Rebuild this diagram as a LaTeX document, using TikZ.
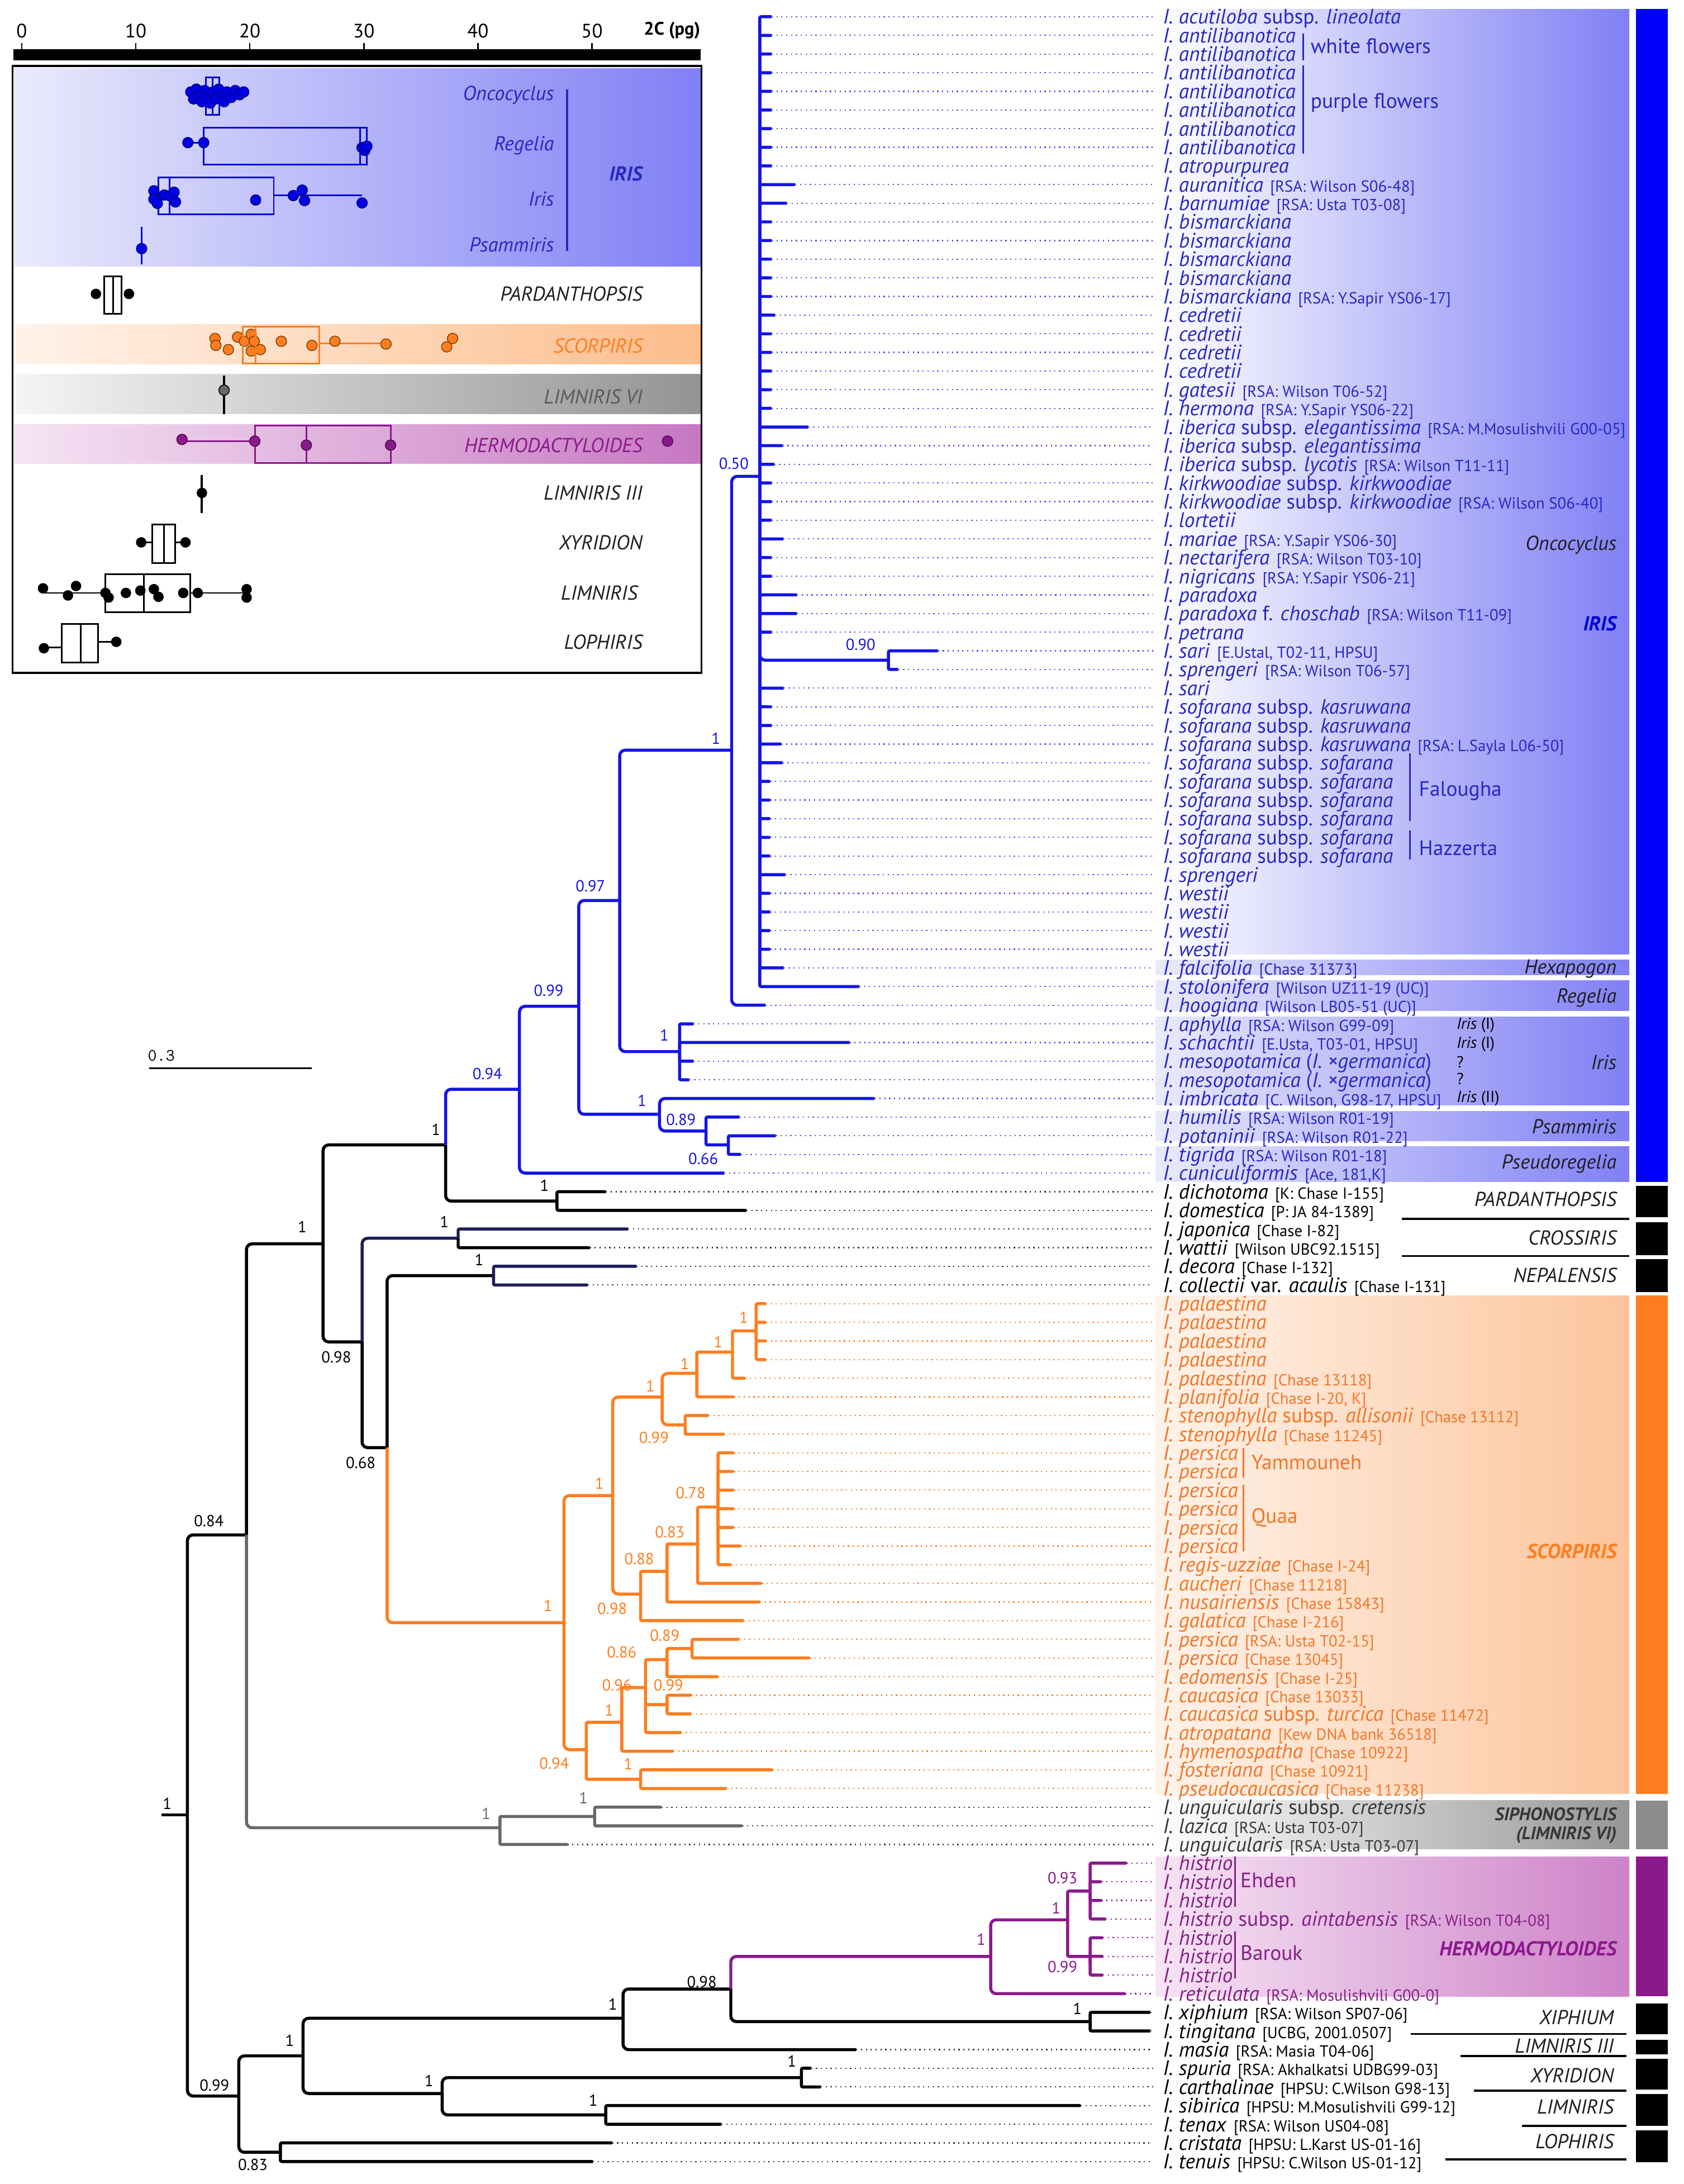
\documentclass[tikz,border=0pt]{standalone}
\usepackage{fontspec}
\setmainfont{PT Sans}

\definecolor{irisblue}{RGB}{20,20,230}
\definecolor{iristext}{RGB}{40,40,195}
\definecolor{irisband}{RGB}{128,128,245}
\definecolor{irisfaint}{RGB}{234,234,252}
\definecolor{scorp}{RGB}{255,125,30}
\definecolor{scorptext}{RGB}{242,118,40}
\definecolor{scorpband}{RGB}{252,196,155}
\definecolor{scorpfaint}{RGB}{255,243,234}
\definecolor{siph}{RGB}{105,105,105}
\definecolor{siphtext}{RGB}{55,55,55}
\definecolor{siphband}{RGB}{150,150,150}
\definecolor{hermo}{RGB}{140,25,140}
\definecolor{hermotext}{RGB}{135,30,135}
\definecolor{hermoband}{RGB}{205,130,200}
\definecolor{hermofaint}{RGB}{246,228,244}
\definecolor{navy}{RGB}{30,30,90}
\definecolor{cladeink}{RGB}{30,30,30}

\newcommand{\tx}[1]{\textit{#1}}
\newcommand{\vouch}[1]{\hspace{5pt}{\fontsize{11.5}{12}\selectfont[#1]}}

\tikzset{
  br/.style = {line width = 2.2pt, rounded corners = 4pt},
  stub/.style = {line width = 2.2pt, rounded corners = 1pt},
  lead/.style = {line width = 0.9pt, dash pattern = on 0.9pt off 2.6pt},
  leaf/.style = {anchor = base west, yshift = -5.2pt, font = \fontsize{15}{15}\selectfont},
  sup/.style = {font = \fontsize{11.5}{12}\selectfont},
  clade/.style = {anchor = east, font = \fontsize{14.5}{15}\selectfont\itshape},
  grp/.style = {anchor = west, font = \fontsize{15}{15}\selectfont},
  insetlab/.style = {anchor = east, font = \fontsize{14.5}{15}\selectfont\itshape},
  gsdot/.style = {circle, minimum size = 7.5pt, line width = 0.6pt},
  gsbox/.style = {line width = 1.2pt},
}

\begin{document}
\begin{tikzpicture}[%
    x = 1pt,
    y = -1pt,
    every node/.style = {inner sep = 0pt}
  ]
  \useasboundingbox (0,0) rectangle (1209,1568);

  % Shaded bands behind the clade labels.
  \shade[left color = white, right color = irisband] (830,6.5) rectangle (1170,684.9);
  \shade[left color = irisfaint, right color = irisband] (830,689.3) rectangle (1170,700);
  \shade[left color = irisfaint, right color = irisband] (830,704) rectangle (1170,725.8);
  \shade[left color = irisfaint, right color = irisband] (830,729.9) rectangle (1170,793.6);
  \shade[left color = irisfaint, right color = irisband] (830,797.7) rectangle (1170,818.9);
  \shade[left color = irisfaint, right color = irisband] (830,823.1) rectangle (1170,848.4);
  \shade[left color = scorpfaint, right color = scorpband] (830,930.2) rectangle (1170,1287.9);
  \shade[left color = white, right color = siphband] (830,1292.6) rectangle (1170,1327.5);
  \shade[left color = hermofaint, right color = hermoband] (830,1333) rectangle (1170,1433.3);

  % Coloured bars on the right.
  \fill[blue] (1174.6,6.5) rectangle (1197.5,848.4);
  \fill (1174.6,851.5) rectangle (1197.5,874);
  \fill (1174.6,877.3) rectangle (1197.5,901.3);
  \fill (1174.6,904) rectangle (1197.5,927.5);
  \fill[scorp] (1174.6,930.2) rectangle (1197.5,1287.9);
  \fill[black!45] (1174.6,1292.6) rectangle (1197.5,1327.5);
  \fill[hermo] (1174.6,1333) rectangle (1197.5,1433.3);
  \fill (1174.6,1438.5) rectangle (1197.5,1460.6);
  \fill (1174.6,1464.5) rectangle (1197.5,1475);
  \fill (1174.6,1478.2) rectangle (1197.5,1500.3);
  \fill (1174.6,1503.5) rectangle (1197.5,1526.3);
  \fill (1174.6,1529.5) rectangle (1197.5,1552.3);

  % Rules under the small black clades.
  \draw[line width = 1.5pt] (1006.8,875) -- (1169.8,875);
  \draw[line width = 1.5pt] (1006.8,901.7) -- (1169.8,901.7);
  \draw[line width = 1.5pt] (1013,1460.3) -- (1168,1460.3);
  \draw[line width = 1.5pt] (1048.6,1476) -- (1168,1476);
  \draw[line width = 1.5pt] (1058.6,1500.9) -- (1168,1500.9);
  \draw[line width = 1.5pt] (1092.8,1526.3) -- (1168,1526.3);
  \draw[line width = 1.5pt] (1038,1550.3) -- (1168,1550.3);

  % Leaves of the Iris clade: index / branch tip / label.
  \foreach \i/\tip/\lab in {%
      1/554/{\tx{I. acutiloba} subsp. \tx{lineolata}},
      2/554/{\tx{I. antilibanotica}}, 3/554/{\tx{I. antilibanotica}},
      4/554/{\tx{I. antilibanotica}}, 5/554/{\tx{I. antilibanotica}},
      6/554/{\tx{I. antilibanotica}}, 7/554/{\tx{I. antilibanotica}},
      8/554/{\tx{I. antilibanotica}},
      9/554/{\tx{I. atropurpurea}},
      10/571/{\tx{I. auranitica}\vouch{RSA: Wilson S06-48}},
      11/565/{\tx{I. barnumiae}\vouch{RSA: Usta T03-08}},
      12/554/{\tx{I. bismarckiana}}, 13/554/{\tx{I. bismarckiana}},
      14/554/{\tx{I. bismarckiana}}, 15/554/{\tx{I. bismarckiana}},
      16/554/{\tx{I. bismarckiana}\vouch{RSA: Y.Sapir YS06-17}},
      17/556.5/{\tx{I. cedretii}}, 18/554/{\tx{I. cedretii}},
      19/554/{\tx{I. cedretii}}, 20/554/{\tx{I. cedretii}},
      21/554/{\tx{I. gatesii}\vouch{RSA: Wilson T06-52}},
      22/554/{\tx{I. hermona}\vouch{RSA: Y.Sapir YS06-22}},
      23/580.4/{\tx{I. iberica} subsp. \tx{elegantissima}\vouch{RSA: M.Mosulishvili G00-05}},
      24/562/{\tx{I. iberica} subsp. \tx{elegantissima}},
      25/556/{\tx{I. iberica} subsp. \tx{lycotis}\vouch{RSA: Wilson T11-11}},
      26/554/{\tx{I. kirkwoodiae} subsp. \tx{kirkwoodiae}},
      27/554/{\tx{I. kirkwoodiae} subsp. \tx{kirkwoodiae}\vouch{RSA: Wilson S06-40}},
      28/554/{\tx{I. lortetii}},
      29/562.6/{\tx{I. mariae}\vouch{RSA: Y.Sapir YS06-30}},
      30/554/{\tx{I. nectarifera}\vouch{RSA: Wilson T03-10}},
      31/554/{\tx{I. nigricans}\vouch{RSA: Y.Sapir YS06-21}},
      32/572.2/{\tx{I. paradoxa}},
      33/572.2/{\tx{I. paradoxa} f. \tx{choschab}\vouch{RSA: Wilson T11-09}},
      34/554/{\tx{I. petrana}},
      35/673.5/{\tx{I. sari}\vouch{E.Ustal, T02-11, HPSU}},
      36/645/{\tx{I. sprengeri}\vouch{RSA: Wilson T06-57}},
      37/562.8/{\tx{I. sari}},
      38/554/{\tx{I. sofarana} subsp. \tx{kasruwana}},
      39/554/{\tx{I. sofarana} subsp. \tx{kasruwana}},
      40/561/{\tx{I. sofarana} subsp. \tx{kasruwana}\vouch{RSA: L.Sayla L06-50}},
      41/562/{\tx{I. sofarana} subsp. \tx{sofarana}},
      42/553/{\tx{I. sofarana} subsp. \tx{sofarana}},
      43/553/{\tx{I. sofarana} subsp. \tx{sofarana}},
      44/553/{\tx{I. sofarana} subsp. \tx{sofarana}},
      45/553/{\tx{I. sofarana} subsp. \tx{sofarana}},
      46/553/{\tx{I. sofarana} subsp. \tx{sofarana}},
      47/564/{\tx{I. sprengeri}},
      48/553/{\tx{I. westii}}, 49/553/{\tx{I. westii}},
      50/553/{\tx{I. westii}}, 51/553/{\tx{I. westii}},
      52/562.8/{\tx{I. falcifolia}\vouch{Chase 31373}},
      53/617/{\tx{I. stolonifera}\vouch{Wilson UZ11-19 (UC)}},
      54/549.6/{\tx{I. hoogiana}\vouch{Wilson LB05-51 (UC)}},
      55/498/{\tx{I. aphylla}\vouch{RSA: Wilson G99-09}},
      56/610/{\tx{I. schachtii}\vouch{E.Usta, T03-01, HPSU}},
      57/498/{\tx{I. mesopotamica} (\tx{I. ×germanica})},
      58/495/{\tx{I. mesopotamica} (\tx{I. ×germanica})},
      59/628/{\tx{I. imbricata}\vouch{C. Wilson, G98-17, HPSU}},
      60/531/{\tx{I. humilis}\vouch{RSA: Wilson R01-19}},
      61/557/{\tx{I. potaninii}\vouch{RSA: Wilson R01-22}},
      62/532/{\tx{I. tigrida}\vouch{RSA: Wilson R01-18}},
      63/520/{\tx{I. cuniculiformis}\vouch{Ace, 181,K}}%
    }{%
    \pgfmathsetmacro{\ly}{12+(\i-1)*13.39}
    \coordinate (t\i) at (\tip,\ly);
    \coordinate (e\i) at (828,\ly);
    \draw[lead, irisblue!75] (t\i) -- (e\i);
    \node[leaf, text = iristext] (l\i) at (835,\ly) {\lab};
  }

  % Leaves of Pardanthopsis, Crossiris and Nepalensis.
  \foreach \i/\tip/\lab in {%
      64/435/{\tx{I. dichotoma}\vouch{K: Chase I-155}},
      65/536/{\tx{I. domestica}\vouch{P: JA 84-1389}},
      66/451/{\tx{I. japonica}\vouch{Chase I-82}},
      67/423.5/{\tx{I. wattii}\vouch{Wilson UBC92.1515}},
      68/457/{\tx{I. decora}\vouch{Chase I-132}},
      69/422/{\tx{I. collectii} var. \tx{acaulis}\vouch{Chase I-131}}%
    }{%
    \pgfmathsetmacro{\ly}{12+(\i-1)*13.39}
    \coordinate (t\i) at (\tip,\ly);
    \coordinate (e\i) at (828,\ly);
    \draw[lead, black!80] (t\i) -- (e\i);
    \node[leaf] (l\i) at (835,\ly) {\lab};
  }

  % Leaves of Scorpiris.
  \foreach \i/\tip/\lab in {%
      70/550/{\tx{I. palaestina}}, 71/550/{\tx{I. palaestina}},
      72/550/{\tx{I. palaestina}}, 73/550/{\tx{I. palaestina}},
      74/535/{\tx{I. palaestina}\vouch{Chase 13118}},
      75/527/{\tx{I. planifolia}\vouch{Chase I-20, K}},
      76/508.7/{\tx{I. stenophylla} subsp. \tx{allisonii}\vouch{Chase 13112}},
      77/520/{\tx{I. stenophylla}\vouch{Chase 11245}},
      78/527/{\tx{I. persica}}, 79/527/{\tx{I. persica}},
      80/527/{\tx{I. persica}}, 81/527/{\tx{I. persica}},
      82/527/{\tx{I. persica}}, 83/531.8/{\tx{I. persica}},
      84/525/{\tx{I. regis-uzziae}\vouch{Chase I-24}},
      85/547/{\tx{I. aucheri}\vouch{Chase 11218}},
      86/545.6/{\tx{I. nusairiensis}\vouch{Chase 15843}},
      87/534/{\tx{I. galatica}\vouch{Chase I-216}},
      88/530.8/{\tx{I. persica}\vouch{RSA: Usta T02-15}},
      89/581.5/{\tx{I. persica}\vouch{Chase 13045}},
      90/515.6/{\tx{I. edomensis}\vouch{Chase I-25}},
      91/496.3/{\tx{I. caucasica}\vouch{Chase 13033}},
      92/496.3/{\tx{I. caucasica} subsp. \tx{turcica}\vouch{Chase 11472}},
      93/489/{\tx{I. atropatana}\vouch{Kew DNA bank 36518}},
      94/483.4/{\tx{I. hymenospatha}\vouch{Chase 10922}},
      95/554.8/{\tx{I. fosteriana}\vouch{Chase 10921}},
      96/521.6/{\tx{I. pseudocaucasica}\vouch{Chase 11238}}%
    }{%
    \pgfmathsetmacro{\ly}{12+(\i-1)*13.39}
    \coordinate (t\i) at (\tip,\ly);
    \coordinate (e\i) at (828,\ly);
    \draw[lead, scorp] (t\i) -- (e\i);
    \node[leaf, text = scorptext] (l\i) at (835,\ly) {\lab};
  }

  % Leaves of Siphonostylis.
  \foreach \i/\tip/\lab in {%
      97/475/{\tx{I. unguicularis} subsp. \tx{cretensis}},
      98/533/{\tx{I. lazica}\vouch{RSA: Usta T03-07}},
      99/407.4/{\tx{I. unguicularis}\vouch{RSA: Usta T03-07}}%
    }{%
    \pgfmathsetmacro{\ly}{12+(\i-1)*13.39}
    \coordinate (t\i) at (\tip,\ly);
    \coordinate (e\i) at (828,\ly);
    \draw[lead, black!75] (t\i) -- (e\i);
    \node[leaf, text = siphtext] (l\i) at (835,\ly) {\lab};
  }

  % Leaves of Hermodactyloides.
  \foreach \i/\tip/\lab in {%
      100/809/{\tx{I. histrio}}, 101/791/{\tx{I. histrio}},
      102/791/{\tx{I. histrio}},
      103/794/{\tx{I. histrio} subsp. \tx{aintabensis}\vouch{RSA: Wilson T04-08}},
      104/792/{\tx{I. histrio}}, 105/792/{\tx{I. histrio}},
      106/792/{\tx{I. histrio}},
      107/808/{\tx{I. reticulata}\vouch{RSA: Mosulishvili G00-0}}%
    }{%
    \pgfmathsetmacro{\ly}{12+(\i-1)*13.39}
    \coordinate (t\i) at (\tip,\ly);
    \coordinate (e\i) at (828,\ly);
    \draw[lead, hermo] (t\i) -- (e\i);
    \node[leaf, text = hermotext] (l\i) at (835,\ly) {\lab};
  }

  % Leaves of the remaining black clades.
  \foreach \i/\tip/\lab in {%
      108/826/{\tx{I. xiphium}\vouch{RSA: Wilson SP07-06}},
      109/826/{\tx{I. tingitana}\vouch{UCBG, 2001.0507}},
      110/614.7/{\tx{I. masia}\vouch{RSA: Masia T04-06}},
      111/582.4/{\tx{I. spuria}\vouch{RSA: Akhalkatsi UDBG99-03}},
      112/589.4/{\tx{I. carthalinae}\vouch{HPSU: C.Wilson G98-13}},
      113/776/{\tx{I. sibirica}\vouch{HPSU: M.Mosulishvili G99-12}},
      114/518/{\tx{I. tenax}\vouch{RSA: Wilson US04-08}},
      115/439.6/{\tx{I. cristata}\vouch{HPSU: L.Karst US-01-16}},
      116/425.8/{\tx{I. tenuis}\vouch{HPSU: C.Wilson US-01-12}}%
    }{%
    \pgfmathsetmacro{\ly}{12+(\i-1)*13.39}
    \coordinate (t\i) at (\tip,\ly);
    \coordinate (e\i) at (828,\ly);
    \draw[lead, black!80] (t\i) -- (e\i);
    \node[leaf] (l\i) at (835,\ly) {\lab};
  }

  % Internal nodes: x of the node bar, y where its stem joins.
  \coordinate (root) at (116,1303);
  \coordinate (nR) at (134.6,1303);
  \coordinate (nA) at (177,1102);
  \coordinate (nB) at (232,893);
  \coordinate (nD) at (320,822);
  \coordinate (nE) at (373,782);
  \coordinate (nF) at (415.6,722.5);
  \coordinate (nH) at (445,646.5);
  \coordinate (nI) at (525.4,538.6);
  \coordinate (nK) at (545.6,342);
  \coordinate (nK2) at (638,474);
  \coordinate (nJ) at (488,755);
  \coordinate (nG) at (473.6,800);
  \coordinate (nG2) at (507,812);
  \coordinate (nG3) at (523,822);
  \coordinate (nP) at (400,862.3);
  \coordinate (nC) at (260,963.4);
  \coordinate (nL) at (329,889);
  \coordinate (nM) at (278,1039.3);
  \coordinate (nN) at (354.4,915.8);
  \coordinate (nS) at (405,1165);
  \coordinate (nS1) at (440,1073.7);
  \coordinate (nS2) at (475.5,1003);
  \coordinate (nS3) at (500.4,986);
  \coordinate (nS4) at (526,970.7);
  \coordinate (nS5) at (543,955.5);
  \coordinate (nS6) at (492,1023);
  \coordinate (nS7) at (460,1144.4);
  \coordinate (nS8) at (479,1128.2);
  \coordinate (nS9) at (501,1108.5);
  \coordinate (nS10) at (515.6,1082);
  \coordinate (nS11) at (421,1256.2);
  \coordinate (nS12) at (446.5,1236.5);
  \coordinate (nS13) at (463.6,1211.5);
  \coordinate (nS14) at (479,1191.5);
  \coordinate (nS15) at (497,1183.6);
  \coordinate (nS16) at (479,1223.8);
  \coordinate (nS17) at (460,1277.4);
  \coordinate (nT) at (359,1312.2);
  \coordinate (nT2) at (427,1304.1);
  \coordinate (nU) at (171.5,1504.8);
  \coordinate (nV) at (217.6,1476);
  \coordinate (nW) at (447.4,1449);
  \coordinate (nX) at (524.8,1428);
  \coordinate (nY) at (711.4,1404.6);
  \coordinate (nY1) at (766.7,1378.3);
  \coordinate (nY2) at (782.8,1357.7);
  \coordinate (nY3) at (782.8,1404.6);
  \coordinate (nZ) at (782.8,1451.4);
  \coordinate (nV2) at (317.5,1503);
  \coordinate (nV3) at (575.5,1491.6);
  \coordinate (nV4) at (435,1518.4);
  \coordinate (nU2) at (201.4,1545.2);

  % Backbone.
  \draw[br] (root) -- (nR);
  \draw[br] (nR) |- (nA) (nR) |- (nU);
  \draw[br] (nA) |- (nB);
  \draw[br, siph] (nA) |- (nT);
  \draw[br] (nB) |- (nD) (nB) |- (nC);
  \draw[br] (nD) |- (nP);
  \draw[stub] (nP) |- (t64) (nP) |- (t65);

  % Iris clade.
  \draw[br, irisblue] (nD) |- (nE);
  \draw[br, irisblue] (nE) |- (nF) (nE) |- (t63);
  \draw[br, irisblue] (nF) |- (nH) (nF) |- (nG);
  \draw[br, irisblue] (nH) |- (nI) (nH) |- (nJ);
  \draw[br, irisblue] (nI) |- (nK) (nI) |- (t54);
  \foreach \i in {1,...,34,37,38,...,53}
    \draw[stub, irisblue] (nK) |- (t\i);
  \draw[br, irisblue] (nK) |- (nK2);
  \draw[stub, irisblue] (nK2) |- (t35) (nK2) |- (t36);
  \foreach \i in {55,...,58}
    \draw[stub, irisblue] (nJ) |- (t\i);
  \draw[br, irisblue] (nG) |- (t59) (nG) |- (nG2);
  \draw[stub, irisblue] (nG2) |- (t60) (nG2) |- (nG3);
  \draw[stub, irisblue] (nG3) |- (t61) (nG3) |- (t62);

  % Crossiris and Nepalensis.
  \draw[br, navy] (nC) |- (nL);
  \draw[br] (nC) |- (nM);
  \draw[stub, navy] (nL) |- (t66);
  \draw[stub] (nL) |- (t67);
  \draw[br] (nM) |- (nN);
  \draw[stub, navy] (nN) |- (t68) (nN) |- (t69);

  % Scorpiris.
  \draw[br, scorp] (nM) |- (nS);
  \draw[br, scorp] (nS) |- (nS1) (nS) |- (nS11);
  \draw[br, scorp] (nS1) |- (nS2) (nS1) |- (nS7);
  \draw[br, scorp] (nS2) |- (nS3) (nS2) |- (nS6);
  \draw[stub, scorp] (nS3) |- (nS4) (nS3) |- (t75);
  \draw[stub, scorp] (nS4) |- (nS5) (nS4) |- (t74);
  \foreach \i in {70,...,73}
    \draw[stub, scorp] (nS5) |- (t\i);
  \draw[stub, scorp] (nS6) |- (t76) (nS6) |- (t77);
  \draw[stub, scorp] (nS7) |- (nS8) (nS7) |- (t87);
  \draw[stub, scorp] (nS8) |- (nS9) (nS8) |- (t86);
  \draw[stub, scorp] (nS9) |- (nS10) (nS9) |- (t85);
  \foreach \i in {78,...,84}
    \draw[stub, scorp] (nS10) |- (t\i);
  \draw[stub, scorp] (nS11) |- (nS12) (nS11) |- (nS17);
  \draw[stub, scorp] (nS12) |- (nS13) (nS12) |- (t94);
  \draw[stub, scorp] (nS13) |- (nS14) (nS13) |- (nS16) (nS13) |- (t93);
  \draw[stub, scorp] (nS14) |- (nS15) (nS14) |- (t90);
  \draw[stub, scorp] (nS15) |- (t88) (nS15) |- (t89);
  \draw[stub, scorp] (nS16) |- (t91) (nS16) |- (t92);
  \draw[stub, scorp] (nS17) |- (t95) (nS17) |- (t96);

  % Siphonostylis.
  \draw[stub, siph] (nT) |- (nT2) (nT) |- (t99);
  \draw[stub, siph] (nT2) |- (t97) (nT2) |- (t98);

  % Lower backbone, Hermodactyloides and the rest.
  \draw[br] (nU) |- (nV) (nU) |- (nU2);
  \draw[br] (nV) |- (nW) (nV) |- (nV2);
  \draw[br] (nW) |- (nX) (nW) |- (t110);
  \draw[br, hermo] (nX) |- (nY);
  \draw[br] (nX) |- (nZ);
  \draw[br, hermo] (nY) |- (nY1) (nY) |- (t107);
  \draw[stub, hermo] (nY1) |- (nY2) (nY1) |- (nY3);
  \foreach \i in {100,...,103}
    \draw[stub, hermo] (nY2) |- (t\i);
  \foreach \i in {104,...,106}
    \draw[stub, hermo] (nY3) |- (t\i);
  \draw[stub] (nZ) |- (t108) (nZ) |- (t109);
  \draw[br] (nV2) |- (nV3) (nV2) |- (nV4);
  \draw[stub] (nV3) |- (t111) (nV3) |- (t112);
  \draw[stub] (nV4) |- (t113) (nV4) |- (t114);
  \draw[stub] (nU2) |- (t115) (nU2) |- (t116);

  % Posterior probabilities.
  \foreach \x/\y/\v [count = \k] in {%
      120/1295/1, 150/1092/0.84, 217/881/1, 241.5/974.5/0.98, 313/811/1,
      391/851/1, 319/877/1, 259/1050/0.68, 344/904.5/1, 154/1497/0.99,
      208/1465/1, 440/1439/1, 504/1423/0.98, 773.6/1442/1, 308/1494/1,
      568.6/1480/1, 426/1508/1, 181.6/1554/0.83}
    \node[sup] (pb\k) at (\x,\y) {\v};
  \foreach \x/\y/\v [count = \k] in {349/1302/1, 419/1291/1}
    \node[sup, text = siph] (pg\k) at (\x,\y) {\v};
  \foreach \x/\y/\v [count = \k] in {%
      527/333/0.50, 618/463/0.90, 514/530/1, 424/636/0.97, 394/711/0.99,
      350/771/0.94, 477/743/1, 461/790/1, 489/804/0.89, 505/832/0.66}
    \node[sup, text = irisblue] (pi\k) at (\x,\y) {\v};
  \foreach \x/\y/\v [count = \k] in {%
      393.5/1153/1, 430.4/1065/1, 467/995/1, 491.7/979/1, 515.6/963.4/1,
      534/946/1, 469.6/1032/0.99, 439.6/1155/0.98, 459/1119/0.88,
      481/1100/0.83, 496/1072/0.78, 398/1266/0.94, 437.3/1228/1,
      443/1210/0.96, 446.5/1186.4/0.86, 477.4/1174/0.89, 480/1210/0.99,
      451/1266.5/1}
    \node[sup, text = scorp] (ps\k) at (\x,\y) {\v};
  \foreach \x/\y/\v [count = \k] in {%
      704.5/1392.5/1, 758.4/1370/1, 763/1348.4/0.93, 763/1412/0.99}
    \node[sup, text = hermo] (ph\k) at (\x,\y) {\v};

  % Population brackets.
  \draw[line width = 1.2pt, iristext] (936,24) -- (936,43.3);
  \node[grp, text = iristext] (white) at (941,33) {white flowers};
  \draw[line width = 1.2pt, iristext] (936,47) -- (936,110.2);
  \node[grp, text = iristext] (purple) at (941,73.7) {purple flowers};
  \draw[line width = 1.2pt, iristext] (1012.5,540.8) -- (1012.5,589.4);
  \node[grp, text = iristext] (falougha) at (1018.8,568) {Falougha};
  \draw[line width = 1.2pt, iristext] (1012.5,596.4) -- (1012.5,617.1);
  \node[grp, text = iristext] (hazzerta) at (1018.8,608.8) {Hazzerta};
  \draw[line width = 1.2pt, scorptext] (892.8,1039.5) -- (892.8,1061);
  \node[grp, text = scorptext] (yamm) at (898.5,1050) {Yammouneh};
  \draw[line width = 1.2pt, scorptext] (892.8,1066) -- (892.8,1113.6);
  \node[grp, text = scorptext] (quaa) at (898.5,1089.7) {Quaa};
  \draw[line width = 1.2pt, hermotext] (887.1,1333) -- (887.1,1368.8);
  \node[grp, text = hermotext] (ehden) at (890.6,1349.8) {Ehden};
  \draw[line width = 1.2pt, hermotext] (887.1,1386.5) -- (887.1,1420.3);
  \node[grp, text = hermotext] (barouk) at (890.6,1402.1) {Barouk};

  % Subgenus notes on the Iris rows.
  \foreach \y/\v [count = \k] in {%
      736/{\textit{Iris} (I)}, 749.8/{\textit{Iris} (I)}, 762.7/?, 774.7/?,
      788.5/{\textit{Iris} (II)}}
    \node[anchor = west, font = \fontsize{11.5}{12}\selectfont] (sg\k) at (1045.8,\y) {\v};

  % Clade names.
  \node[clade, text = cladeink] (c-onco) at (1161,391.5) {Oncocyclus};
  \node[clade, text = blue!85!black, font = \fontsize{14.5}{15}\selectfont\bfseries\itshape] (c-iris) at (1161,447.7) {IRIS};
  \node[clade, text = cladeink] (c-hexa) at (1161,695.4) {Hexapogon};
  \node[clade, text = cladeink] (c-rege) at (1161,716.6) {Regelia};
  \node[clade, text = cladeink] (c-iri) at (1161,762.7) {Iris};
  \node[clade, text = cladeink] (c-psam) at (1161,808.8) {Psammiris};
  \node[clade, text = cladeink] (c-pseu) at (1161,835.5) {Pseudoregelia};
  \node[clade, text = cladeink] (c-pard) at (1161,861.1) {PARDANTHOPSIS};
  \node[clade, text = cladeink] (c-cros) at (1161,888.8) {CROSSIRIS};
  \node[clade, text = cladeink] (c-nepa) at (1161,915.5) {NEPALENSIS};
  \node[clade, text = scorp, font = \fontsize{14.5}{15}\selectfont\bfseries\itshape] (c-scor) at (1161,1113.6) {SCORPIRIS};
  \node[clade, text = siphtext, font = \fontsize{13}{13}\selectfont\bfseries\itshape] (c-siph) at (1161,1302.5) {SIPHONOSTYLIS};
  \node[clade, text = siphtext, font = \fontsize{13}{13}\selectfont\bfseries\itshape] (c-siph2) at (1161,1317.5) {(LIMNIRIS VI)};
  \node[clade, text = hermo, font = \fontsize{14.5}{15}\selectfont\bfseries\itshape] (c-herm) at (1161,1398.9) {HERMODACTYLOIDES};
  \node[clade, text = cladeink] (c-xiph) at (1159,1448.3) {XIPHIUM};
  \node[clade, text = cladeink] (c-lim3) at (1159,1469) {LIMNIRIS III};
  \node[clade, text = cladeink] (c-xyri) at (1159,1489.9) {XYRIDION};
  \node[clade, text = cladeink] (c-limn) at (1159,1512.6) {LIMNIRIS};
  \node[clade, text = cladeink] (c-loph) at (1159,1537.3) {LOPHIRIS};

  % Scale bar.
  \draw[line width = 1.2pt] (107,767) -- (224,767);
  \node[anchor = west, font = \ttfamily\fontsize{12.5}{13}\selectfont] (scale) at (106,758) {0.3};

  % Genome size panel: axis.
  \fill (9.75,35.2) rectangle (503,43.2);
  \foreach \v in {0,10,...,50} {
    \draw[line width = 1pt] ({15.6+8.19*\v},31) -- ({15.6+8.19*\v},35.2);
    \node[font = \fontsize{14}{15}\selectfont] (ax\v) at ({15.6+8.19*\v},22) {\v};
  }
  \node[anchor = east, font = \fontsize{13}{14}\selectfont\bfseries] (axunit) at (503,22) {2C (pg)};

  % Genome size panel: bands and frame.
  \shade[left color = irisfaint, right color = irisband] (10,49.2) rectangle (503,191.2);
  \shade[left color = scorpfaint, right color = scorpband!90!orange] (10,233.1) rectangle (503,261.5);
  \shade[left color = black!4, right color = black!42] (10,268.6) rectangle (503,297);
  \shade[left color = hermofaint, right color = hermoband!90!hermo] (10,304.9) rectangle (503,332.8);
  \draw[line width = 1.3pt] (9.1,47.3) rectangle (503.8,483.1);

  % Oncocyclus.
  \foreach \x/\y [count = \k] in {137/66, 139/71, 141/64, 143/69, 145/73, 147/65,
      149/70, 151/74, 153/66, 155/71, 157/64, 159/69, 161/73, 163/66, 166/70,
      169/65, 172/68, 175/66}
    \node[gsdot, fill = blue!90!black, draw = blue!50!black] (on\k) at (\x,\y) {};
  \draw[gsbox, blue!85!black] (147.9,55.5) rectangle (157.6,82.5) (152.5,55.5) -- (152.5,82.5);

  % Regelia.
  \draw[gsbox, blue!85!black] (134.9,102.4) -- (146.3,102.4);
  \draw[gsbox, blue!85!black] (146.3,91.7) rectangle (263.3,118.2) (258.4,91.7) -- (258.4,118.2);
  \foreach \x/\y [count = \k] in {134.9/102.4, 146.3/102.4, 260/106, 262/108, 263.5/105}
    \node[gsdot, fill = blue!90!black, draw = blue!50!black] (re\k) at (\x,\y) {};

  % Iris.
  \draw[gsbox, blue!85!black] (196.6,140.4) -- (260,140.4);
  \draw[gsbox, blue!85!black] (113.8,127.4) rectangle (196.6,153.9) (121.9,127.4) -- (121.9,153.9);
  \foreach \x/\y [count = \k] in {110.5/137, 110.5/143, 113/146, 118/140, 121.9/140.5,
      125/138, 126/145, 183.6/143.6, 210.6/140.4, 217/136.5, 218.7/144, 260/145.7}
    \node[gsdot, fill = blue!90!black, draw = blue!50!black] (ir\k) at (\x,\y) {};

  % Psammiris.
  \draw[gsbox, blue!85!black] (101.7,162.7) -- (101.7,189.6);
  \node[gsdot, fill = blue!90!black, draw = blue!50!black] (ps) at (101.7,178.5) {};

  % Pardanthopsis.
  \draw[gsbox] (74.8,198.4) rectangle (87.1,225.4) (81.3,198.4) -- (81.3,225.4);
  \node[gsdot, fill = black] (pa1) at (68.9,211) {};
  \node[gsdot, fill = black] (pa2) at (92.6,211) {};

  % Scorpiris.
  \draw[gsbox, scorp] (229.1,246.7) -- (277.2,246.7);
  \foreach \x/\y [count = \k] in {154.4/243, 155/248, 164/251, 170.6/242, 175.5/245,
      180.4/240, 180.4/252, 182.6/245, 186.9/251, 202/245, 224/248, 240.5/245,
      277.2/247, 320.8/249, 325/243}
    \node[gsdot, fill = scorp, draw = orange!50!black] (sc\k) at (\x,\y) {};
  \draw[gsbox, scorp] (174.5,234.5) rectangle (229.1,261) (183.6,234.5) -- (183.6,261);

  % Limniris VI.
  \draw[line width = 1.6pt] (160.9,269.5) -- (160.9,297.3);
  \node[gsdot, fill = black!60, draw = black] (l6) at (160.9,280.1) {};

  % Hermodactyloides.
  \draw[gsbox, hermo] (130.7,316.7) -- (183,316.7);
  \draw[gsbox, hermo] (183,305.4) rectangle (280.5,332.3) (220,305.4) -- (220,332.3);
  \foreach \x/\y [count = \k] in {130.7/315.5, 183/316.7, 220/319.6, 280.5/319.6, 479.4/316.7}
    \node[gsdot, fill = hermo, draw = hermo!50!black] (he\k) at (\x,\y) {};

  % Limniris III.
  \draw[line width = 1.6pt] (145,341.2) -- (145,368.3);
  \node[gsdot, fill = black] (l3) at (145,353.9) {};

  % Xyridion.
  \draw[gsbox] (101.4,389.4) -- (109.5,389.4) (125.8,389.4) -- (133.2,389.4);
  \draw[gsbox] (109.5,376.4) rectangle (125.8,404.1) (117.6,376.4) -- (117.6,404.1);
  \node[gsdot, fill = black] (xy1) at (101.4,389.4) {};
  \node[gsdot, fill = black] (xy2) at (133.2,389.4) {};

  % Limniris.
  \draw[gsbox] (30.9,425.7) -- (75.7,425.7) (136.5,425.7) -- (177.1,425.7);
  \draw[gsbox] (75.7,412.2) rectangle (136.5,439.5) (103.3,412.2) -- (103.3,439.5);
  \foreach \x/\y [count = \k] in {30.9/422.4, 48.8/427.5, 54.6/420.7, 75.7/425.7,
      78/429, 90.4/425.7, 100.8/424, 110.5/423, 113.8/428.5, 131.6/425.7,
      142/425.7, 177.1/423, 177.1/429}
    \node[gsdot, fill = black] (li\k) at (\x,\y) {};

  % Lophiris.
  \draw[gsbox] (31.5,465) -- (44.5,465) (70.5,461) -- (83.5,461);
  \draw[gsbox] (44.5,448) rectangle (70.5,475.5) (57.9,448) -- (57.9,475.5);
  \node[gsdot, fill = black] (lo1) at (31.5,465.4) {};
  \node[gsdot, fill = black] (lo2) at (83.5,460.8) {};

  % Panel labels.
  \node[insetlab, text = iristext] (i-onco) at (398,68.2) {Oncocyclus};
  \node[insetlab, text = iristext] (i-rege) at (398,104.7) {Regelia};
  \node[insetlab, text = iristext] (i-iris) at (398,142.8) {Iris};
  \node[insetlab, text = iristext] (i-psam) at (398,175.8) {Psammiris};
  \draw[line width = 1.3pt, iristext] (407.2,64.3) -- (407.2,180.1);
  \node[insetlab, text = iristext, font = \fontsize{14.5}{15}\selectfont\bfseries\itshape] (i-IRIS) at (461.5,124.6) {IRIS};
  \node[insetlab, text = cladeink] (i-pard) at (461.5,211) {PARDANTHOPSIS};
  \node[insetlab, text = scorp] (i-scor) at (461.5,248.3) {SCORPIRIS};
  \node[insetlab, text = black!65] (i-lim6) at (461.5,284.7) {LIMNIRIS VI};
  \node[insetlab, text = hermo] (i-herm) at (461.5,319.6) {HERMODACTYLOIDES};
  \node[insetlab, text = cladeink] (i-lim3) at (461.5,353.9) {LIMNIRIS III};
  \node[insetlab, text = cladeink] (i-xyri) at (461.5,389.4) {XYRIDION};
  \node[insetlab, text = cladeink] (i-limn) at (458,425.7) {LIMNIRIS};
  \node[insetlab, text = cladeink] (i-loph) at (461.5,461) {LOPHIRIS};
\end{tikzpicture}
\end{document}
